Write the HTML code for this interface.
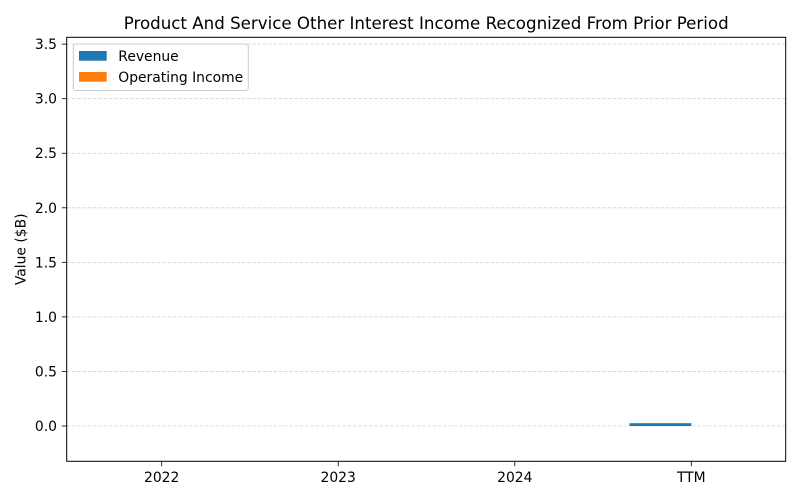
<!DOCTYPE html>
<html>
<head>
<meta charset="utf-8">
<style>
html,body{margin:0;padding:0;background:#fff;}
svg{display:block;}
text{font-family:"DejaVu Sans","Liberation Sans",sans-serif;fill:#000;}
</style>
</head>
<body>
<svg width="800" height="500" viewBox="0 0 800 500" xmlns="http://www.w3.org/2000/svg">
<rect x="0" y="0" width="800" height="500" fill="#fff"/>
<!-- grid -->
<g stroke="#b0b0b0" stroke-opacity="0.55" stroke-width="0.8" stroke-dasharray="3.7,1.6">
<line x1="66.7" x2="785.7" y1="426" y2="426"/>
<line x1="66.7" x2="785.7" y1="371.45" y2="371.45"/>
<line x1="66.7" x2="785.7" y1="316.9" y2="316.9"/>
<line x1="66.7" x2="785.7" y1="262.35" y2="262.35"/>
<line x1="66.7" x2="785.7" y1="207.8" y2="207.8"/>
<line x1="66.7" x2="785.7" y1="153.25" y2="153.25"/>
<line x1="66.7" x2="785.7" y1="98.7" y2="98.7"/>
<line x1="66.7" x2="785.7" y1="44.15" y2="44.15"/>
</g>
<!-- bar -->
<rect x="629.5" y="423.2" width="61.8" height="2.8" fill="#1f77b4"/>
<!-- axes frame -->
<rect x="66.7" y="37.3" width="719" height="424" fill="none" stroke="#000" stroke-width="1"/>
<!-- ticks -->
<g stroke="#000" stroke-width="0.8">
<line x1="61.8" x2="66.7" y1="426" y2="426"/>
<line x1="61.8" x2="66.7" y1="371.45" y2="371.45"/>
<line x1="61.8" x2="66.7" y1="316.9" y2="316.9"/>
<line x1="61.8" x2="66.7" y1="262.35" y2="262.35"/>
<line x1="61.8" x2="66.7" y1="207.8" y2="207.8"/>
<line x1="61.8" x2="66.7" y1="153.25" y2="153.25"/>
<line x1="61.8" x2="66.7" y1="98.7" y2="98.7"/>
<line x1="61.8" x2="66.7" y1="44.15" y2="44.15"/>
<line x1="161.7" x2="161.7" y1="461.3" y2="466.2"/>
<line x1="338.2" x2="338.2" y1="461.3" y2="466.2"/>
<line x1="514.8" x2="514.8" y1="461.3" y2="466.2"/>
<line x1="691.3" x2="691.3" y1="461.3" y2="466.2"/>
</g>
<g font-size="13.89" text-anchor="end">
<text x="57" y="431">0.0</text>
<text x="57" y="376.4">0.5</text>
<text x="57" y="321.9">1.0</text>
<text x="57" y="267.3">1.5</text>
<text x="57" y="212.8">2.0</text>
<text x="57" y="158.2">2.5</text>
<text x="57" y="103.7">3.0</text>
<text x="57" y="49.1">3.5</text>
</g>
<g font-size="13.89" text-anchor="middle">
<text x="161.7" y="482">2022</text>
<text x="338.2" y="482">2023</text>
<text x="514.8" y="482">2024</text>
<text x="691.3" y="482">TTM</text>
</g>
<text x="0" y="0" font-size="13.89" text-anchor="middle" transform="translate(25.5,249.3) rotate(-90)">Value ($B)</text>
<text x="426.2" y="29" font-size="16.67" text-anchor="middle">Product And Service Other Interest Income Recognized From Prior Period</text>
<!-- legend -->
<rect x="73.3" y="44" width="175" height="46.5" rx="2.5" fill="#fff" fill-opacity="0.8" stroke="#cccccc" stroke-width="1"/>
<rect x="79" y="51" width="27.7" height="9.7" fill="#1f77b4"/>
<rect x="79" y="72" width="27.7" height="9.7" fill="#ff7f0e"/>
<text x="118.3" y="61" font-size="13.89">Revenue</text>
<text x="118.3" y="82" font-size="13.89">Operating Income</text>
</svg>
</body>
</html>
